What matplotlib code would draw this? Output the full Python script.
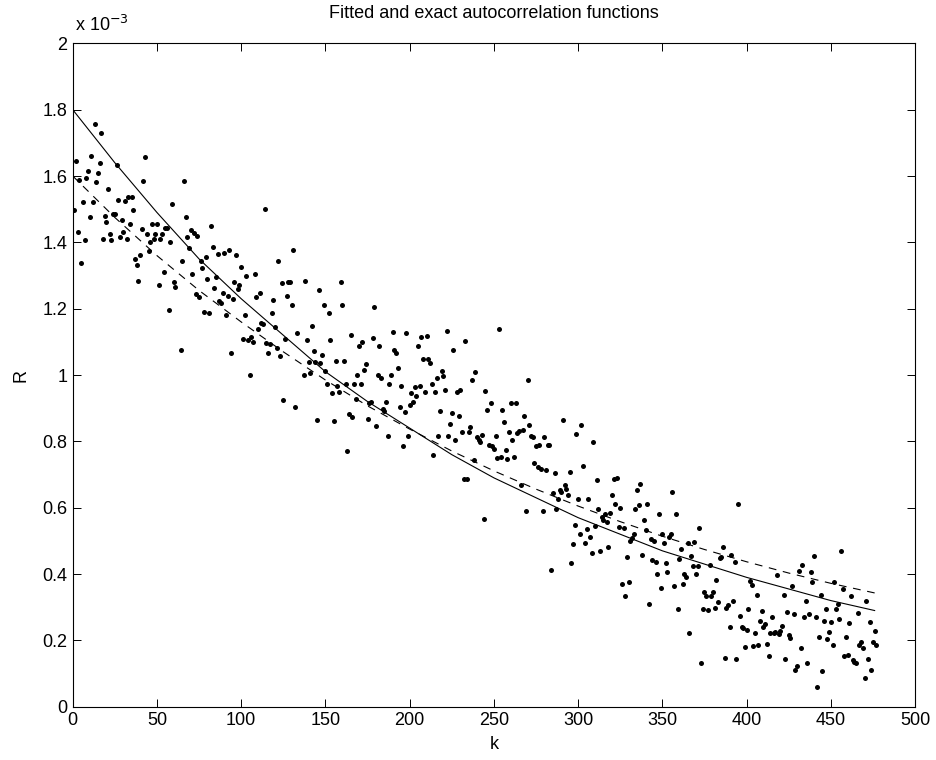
import numpy as np
import matplotlib.pyplot as plt
from matplotlib.ticker import MultipleLocator, FormatStrFormatter

plt.rcParams['font.family'] = ['Liberation Sans', 'DejaVu Sans']

SEG_START = [1, 64, 137, 207, 277, 349, 421]
R_SEG1 = [1.498, 1.646, 1.430, 1.588, 1.338, 1.521, 1.407, 1.593, 1.614, 1.476, 1.659, 1.521,
          1.757, 1.581, 1.609, 1.639, 1.730, 1.410, 1.478, 1.462, 1.562, 1.425, 1.407, 1.486,
          1.486, 1.633, 1.529, 1.415, 1.466, 1.432, 1.524, 1.410, 1.536, 1.454, 1.538, 1.496,
          1.350, 1.332, 1.282, 1.363, 1.440, 1.586, 1.656, 1.425, 1.373, 1.400, 1.454, 1.410,
          1.425, 1.454, 1.270, 1.410, 1.425, 1.310, 1.444, 1.444, 1.195, 1.400, 1.516, 1.280,
          1.265]
R_SEG2 = [1.076, 1.343, 1.584, 1.477, 1.415, 1.383, 1.437, 1.305, 1.427, 1.244, 1.420, 1.236,
          1.345, 1.323, 1.191, 1.355, 1.290, 1.186, 1.448, 1.385, 1.263, 1.297, 1.365, 1.222,
          1.216, 1.248, 1.367, 1.182, 1.239, 1.377, 1.067, 1.229, 1.280, 1.362, 1.260, 1.270,
          1.325, 1.109, 1.182, 1.300, 1.106, 0.999, 1.116, 1.099, 1.305, 1.236, 1.139, 1.246,
          1.156, 1.154, 1.500, 1.096, 1.066, 1.094, 1.186, 1.226, 1.146, 1.082, 1.345, 1.056,
          1.277, 0.925, 1.109, 1.239, 1.280, 1.280, 1.211, 1.378, 0.905, 1.126]
R_SEG3 = [1.000, 1.284, 1.106, 1.038, 1.005, 1.149, 1.072, 1.038, 0.863, 1.256, 1.035, 1.061,
          1.212, 1.011, 0.973, 1.186, 1.106, 0.945, 0.861, 1.041, 0.968, 0.948, 1.279, 1.212,
          1.041, 0.973, 0.770, 0.881, 1.122, 0.873, 0.973, 0.928, 1.000, 1.089, 0.973, 1.099,
          1.015, 1.033, 0.868, 0.915, 0.918, 1.112, 1.204, 0.845, 1.001, 1.089, 0.991, 0.898,
          0.893, 0.918, 0.815, 0.973, 1.001, 1.129, 1.076, 1.066, 1.021, 0.905, 0.968, 0.787,
          0.888, 1.126, 0.815, 0.911, 0.945, 0.918, 0.965, 0.938, 1.089, 0.968]
R_SEG4 = [1.116, 1.049, 0.949, 1.119, 1.047, 1.036, 0.972, 0.758, 0.949, 0.992, 0.815, 0.891,
          1.012, 0.996, 0.954, 1.132, 0.815, 0.851, 0.885, 1.076, 0.805, 0.949, 0.875, 0.956,
          0.828, 0.688, 1.104, 0.688, 0.828, 0.843, 0.986, 0.743, 1.009, 0.813, 0.803, 0.798,
          0.818, 0.567, 0.952, 0.896, 0.788, 0.917, 0.785, 0.778, 0.815, 0.751, 1.139, 0.753,
          0.895, 0.858, 0.773, 0.748, 0.828, 0.916, 0.805, 0.753, 0.916, 0.825, 0.831, 0.668,
          0.833, 0.875, 0.590, 0.984, 0.848, 0.815, 0.813, 0.735, 0.785, 0.723]
R_SEG5 = [0.788, 0.718, 0.590, 0.813, 0.714, 0.788, 0.788, 0.413, 0.644, 0.705, 0.597, 0.627,
          0.654, 0.647, 0.865, 0.667, 0.657, 0.637, 0.707, 0.433, 0.492, 0.547, 0.821, 0.625,
          0.520, 0.848, 0.725, 0.494, 0.537, 0.627, 0.512, 0.464, 0.798, 0.544, 0.684, 0.597,
          0.470, 0.572, 0.562, 0.580, 0.557, 0.482, 0.584, 0.637, 0.687, 0.610, 0.690, 0.542,
          0.600, 0.369, 0.540, 0.333, 0.452, 0.376, 0.500, 0.510, 0.520, 0.597, 0.654, 0.607,
          0.672, 0.457, 0.564, 0.532, 0.612, 0.309, 0.507, 0.443, 0.500, 0.436, 0.399, 0.582]
R_SEG6 = [0.358, 0.520, 0.494, 0.434, 0.406, 0.512, 0.522, 0.647, 0.363, 0.582, 0.296, 0.444,
          0.477, 0.369, 0.399, 0.391, 0.494, 0.223, 0.454, 0.424, 0.497, 0.401, 0.424, 0.540,
          0.132, 0.296, 0.346, 0.333, 0.291, 0.427, 0.333, 0.346, 0.299, 0.381, 0.316, 0.447,
          0.452, 0.482, 0.148, 0.299, 0.306, 0.239, 0.457, 0.319, 0.437, 0.145, 0.612, 0.273,
          0.241, 0.236, 0.180, 0.231, 0.296, 0.379, 0.366, 0.183, 0.221, 0.336, 0.186, 0.259,
          0.289, 0.241, 0.249, 0.189, 0.152, 0.223, 0.269, 0.223, 0.226, 0.396, 0.219, 0.229]
R_SEG7 = [0.243, 0.336, 0.145, 0.286, 0.216, 0.206, 0.363, 0.279, 0.112, 0.122, 0.409, 0.178,
          0.427, 0.269, 0.319, 0.132, 0.281, 0.406, 0.376, 0.454, 0.271, 0.058, 0.211, 0.336,
          0.108, 0.259, 0.296, 0.203, 0.226, 0.256, 0.186, 0.376, 0.296, 0.309, 0.263, 0.470,
          0.356, 0.152, 0.209, 0.155, 0.251, 0.333, 0.140, 0.135, 0.132, 0.283, 0.185, 0.196,
          0.176, 0.088, 0.319, 0.145, 0.256, 0.112, 0.196, 0.229, 0.186]
SEGMENTS = [R_SEG1, R_SEG2, R_SEG3, R_SEG4, R_SEG5, R_SEG6, R_SEG7]

# fitted (solid) and exact (dashed) curves, read at these lags
K_FIT = [0, 25, 50, 75, 100, 125, 150, 175, 200, 225, 250, 275, 300, 325, 350, 375, 400, 425, 450, 476]
R_SOLID = [1.80, 1.64, 1.49, 1.35, 1.23, 1.12, 1.01, 0.92, 0.84, 0.76, 0.69, 0.63, 0.57, 0.52,
           0.47, 0.43, 0.39, 0.355, 0.32, 0.29]
R_DASHED = [1.60, 1.475, 1.36, 1.255, 1.16, 1.07, 0.985, 0.907, 0.837, 0.771, 0.711, 0.656,
            0.605, 0.558, 0.514, 0.474, 0.437, 0.403, 0.372, 0.343]

fig = plt.figure(figsize=(9.37, 7.6), dpi=100)
ax = fig.add_axes([0.0776, 0.0701, 0.899, 0.8729])

for start, vals in zip(SEG_START, SEGMENTS):
    ks = start + np.arange(len(vals))
    ax.plot(ks, vals, 'o', ms=3.6, color='k', mec='none')

ax.plot(K_FIT, R_SOLID, color='k', lw=0.8)
ax.plot(K_FIT, R_DASHED, color='k', lw=0.8, linestyle=(0, (7, 6)))

ax.set_xlim(0, 500)
ax.set_ylim(0, 2)
ax.xaxis.set_major_locator(MultipleLocator(50))
ax.yaxis.set_major_locator(MultipleLocator(0.2))
ax.yaxis.set_major_formatter(FormatStrFormatter('%g'))
ax.tick_params(direction='in', top=True, right=True, length=6, width=0.7,
               labelsize=13, pad=4)
for sp in ax.spines.values():
    sp.set_linewidth(0.8)

ax.text(0.003, 1.012, r'x 10$^{-3}$', transform=ax.transAxes, fontsize=13,
        ha='left', va='bottom')
ax.set_title('Fitted and exact autocorrelation functions', fontsize=13, pad=18)
ax.set_xlabel('k', fontsize=13, labelpad=5)
ax.set_ylabel('R', fontsize=13, labelpad=9)

fig.savefig('out.png', dpi=100)
